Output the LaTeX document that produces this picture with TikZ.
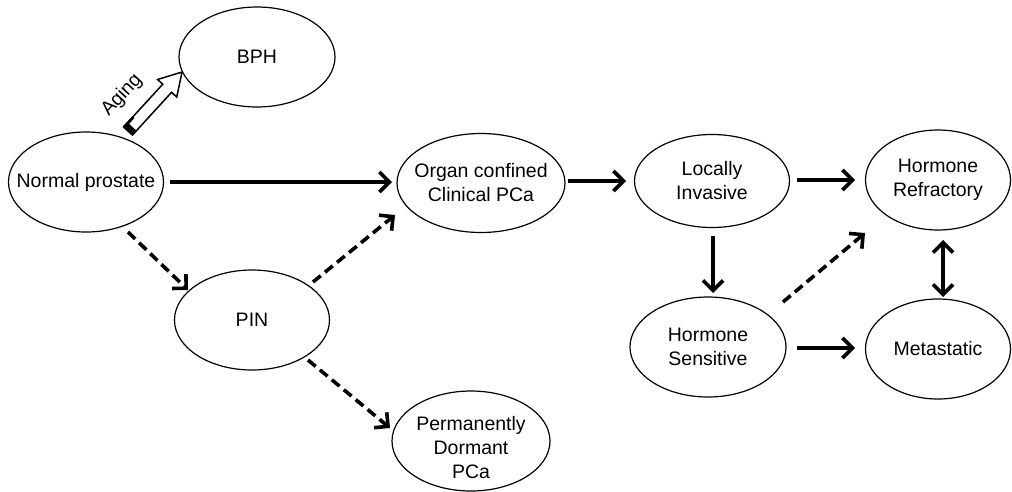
\documentclass[tikz,border=0pt]{standalone}
\usepackage{fontspec}
\setmainfont{Liberation Sans}
\usetikzlibrary{arrows.meta,shapes.geometric}
\begin{document}
\begin{tikzpicture}[x=1pt,y=-1pt,
  txt/.style={font=\fontsize{19.5}{24}\selectfont, align=center, inner sep=0pt},
  oval/.style={draw, line width=1.2pt, ellipse, inner sep=0pt},
  state/.style={oval, label={[txt]center:#1}},
  conn/.style={line width=3.6pt, -{Straight Barb[length=10pt,width=20pt,line width=3.6pt]}},
  dconn/.style={conn, dash pattern=on 10pt off 5.5pt},
  tipdef/.tip={Straight Barb[length=10pt,width=20pt,line width=3.6pt]}
]
\useasboundingbox (0,0) rectangle (1012,491);
\node[state={Normal prostate}, minimum width=155pt, minimum height=100pt] (normal) at (86,182) {};
\node[state={BPH}, minimum width=156pt, minimum height=100pt] (bph) at (257,57) {};
\node[state={Organ confined\\Clinical PCa}, minimum width=168pt, minimum height=99pt] (organ) at (481,183) {};
\node[state={Locally\\Invasive}, minimum width=155pt, minimum height=93pt] (local) at (712,181) {};
\node[state={Hormone\\Refractory}, minimum width=145pt, minimum height=100pt] (refr) at (938,180) {};
\node[state={Hormone\\Sensitive}, minimum width=156pt, minimum height=100pt] (sens) at (708,347) {};
\node[state={Metastatic}, minimum width=145pt, minimum height=100pt] (meta) at (938,349) {};
\node[state={PIN}, minimum width=155pt, minimum height=100pt] (pin) at (252,320) {};
\node[oval, label={[txt,yshift=-7pt]center:Permanently\\Dormant\\PCa}, minimum width=158pt, minimum height=100pt] (dorm) at (471,441) {};

\begin{scope}[shift={(128,131)}, rotate=47.5]
  \filldraw[fill=white, draw=black, line width=1.5pt] (0,-6) -- (58,-6) -- (58,-13) -- (80,0) -- (58,13) -- (58,6) -- (0,6) -- cycle;
  \fill (0,-6.7) rectangle (6,6.7);
  \fill (0,-6.7) rectangle (14,-4);
\end{scope}
\node[txt, rotate=47.5] (aging) at (122,95) {Aging};

\draw[conn] ([xshift=84pt]normal.center) -- ([xshift=-89pt,yshift=1pt]organ.center);
\draw[dconn] ([xshift=42pt,yshift=-50pt]normal.center) -- ([xshift=-64pt,yshift=30pt]pin.center);
\draw[dconn] ([xshift=61pt,yshift=38pt]pin.center) -- ([xshift=-86pt,yshift=-32pt]organ.center);
\draw[dconn] ([xshift=56pt,yshift=-40pt]pin.center) -- ([xshift=-81pt,yshift=13pt]dorm.center);
\draw[conn] ([xshift=87pt,yshift=2pt]organ.center) -- ([xshift=-86pt]local.center);
\draw[conn] ([xshift=85pt,yshift=1pt]local.center) -- ([xshift=-83pt]refr.center);
\draw[conn] ([xshift=1pt,yshift=-55pt]local.center) -- ([xshift=5pt,yshift=54pt]sens.center);
\draw[dconn] ([xshift=75pt,yshift=45pt]sens.center) -- ([xshift=-73pt,yshift=-53pt]refr.center);
\draw[conn] ([xshift=89pt,yshift=-1pt]sens.center) -- ([xshift=-83pt,yshift=1pt]meta.center);
\draw[line width=3.6pt, tipdef-tipdef] ([xshift=5pt,yshift=-60pt]refr.center) -- ([xshift=5pt,yshift=52pt]meta.center);
\end{tikzpicture}
\end{document}
